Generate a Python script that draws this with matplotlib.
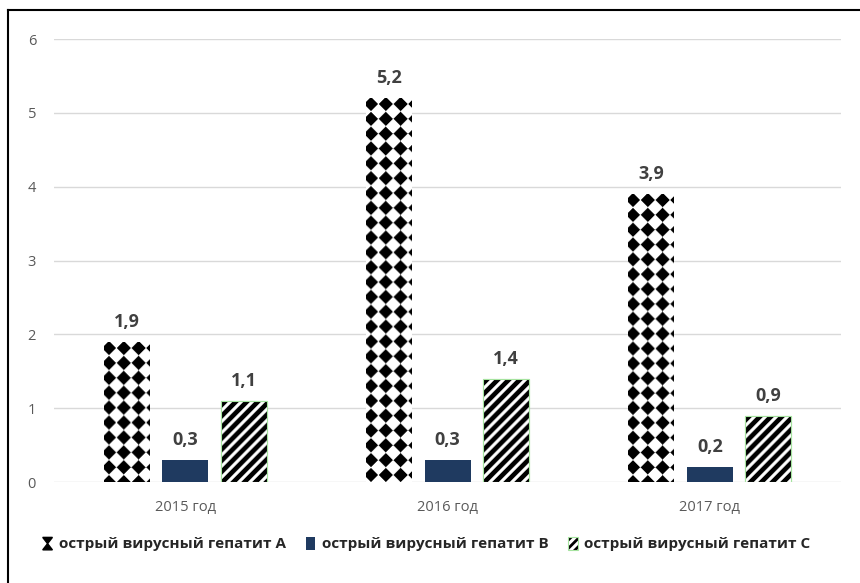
import numpy as np
import matplotlib.pyplot as plt
from matplotlib.patches import Rectangle, Polygon
from matplotlib.lines import Line2D
from matplotlib.legend_handler import HandlerBase

plt.rcParams['font.family'] = ['Open Sans', 'DejaVu Sans']

years = ["2015 год", "2016 год", "2017 год"]
hep_a = [1.9, 5.2, 3.9]
hep_b = [0.3, 0.3, 0.2]
hep_c = [1.1, 1.4, 0.9]
series_names = ["острый вирусный гепатит A",
                "острый вирусный гепатит B",
                "острый вирусный гепатит C"]

navy = "#1F3A60"
pale_green = "#A6E3A0"
grid_grey = "#D9D9D9"
text_grey = "#595959"
label_grey = "#404040"

fig = plt.figure(figsize=(8.6, 5.83), dpi=100)
ax = fig.add_axes([0.063, 0.173, 0.915, 0.760])

x = np.arange(len(years))
w = 0.175
off = 0.223

bars_a = ax.bar(x - off, hep_a, w, color="white", edgecolor="none", zorder=2)
bars_b = ax.bar(x, hep_b, w, color=navy, edgecolor="none", zorder=2)
bars_c = ax.bar(x + off, hep_c, w, color="white", edgecolor=pale_green,
                linewidth=0.8, zorder=2)

ax.set_xlim(-0.5, 2.5)
ax.set_ylim(0, 6)


def diamonds(h, w):
    # black diamonds on a square grid, tips nearly touching
    p = 14.8
    yy, xx = np.mgrid[0:h, 0:w] + 0.5
    dx = np.abs(((xx - 5.0) + p / 2) % p - p / 2)
    dy = np.abs(((yy - 7.0) + p / 2) % p - p / 2)
    d = dx + dy
    return np.clip((d - 6.4) / 1.4, 0, 1)


def stripes(h, w):
    # thick forward slash stripes
    p = 11.0
    yy, xx = np.mgrid[0:h, 0:w] + 0.5
    u = (xx + yy) % p
    d = np.abs(u - p / 2)
    return np.clip((d - 2.8) / 1.0, 0, 1)


def fill_texture(bars, maker):
    for b in bars:
        x0, y0 = b.get_x(), b.get_y()
        x1, y1 = x0 + b.get_width(), y0 + b.get_height()
        (px0, py0), (px1, py1) = ax.transData.transform([(x0, y0), (x1, y1)])
        tw = max(int(round(px1 - px0)), 1)
        th = max(int(round(py1 - py0)), 1)
        tex = maker(th, tw)
        im = ax.imshow(tex, cmap="gray", vmin=0, vmax=1, extent=(x0, x1, y0, y1),
                       origin="upper", aspect="auto", interpolation="bilinear",
                       zorder=2.5)
        im.set_clip_path(b)


fill_texture(bars_a, diamonds)
fill_texture(bars_c, stripes)
# redraw the green outline over the stripes
for b in bars_c:
    ax.add_patch(Rectangle((b.get_x(), 0), b.get_width(), b.get_height(),
                           facecolor="none", edgecolor=pale_green,
                           linewidth=0.8, zorder=3))

ax.set_xlim(-0.5, 2.5)
ax.set_ylim(0, 6)

for bars, vals in ((bars_a, hep_a), (bars_b, hep_b), (bars_c, hep_c)):
    for b, v in zip(bars, vals):
        ax.annotate(f"{v:.1f}".replace(".", ","),
                    (b.get_x() + b.get_width() / 2, v),
                    xytext=(0, 8), textcoords="offset points",
                    ha="center", va="bottom", fontsize=13,
                    fontweight="bold", color=label_grey, zorder=4)

ax.set_yticks(range(0, 7))
ax.set_xticks(x)
ax.set_xticklabels(years)
ax.tick_params(axis="both", length=0, labelsize=10.5, labelcolor=text_grey)
ax.tick_params(axis="y", pad=13)
ax.tick_params(axis="x", pad=13)
ax.yaxis.grid(True, color=grid_grey, linewidth=1)
ax.set_axisbelow(True)
for s in ax.spines.values():
    s.set_visible(False)


class HourglassHandler(HandlerBase):
    def create_artists(self, legend, orig, xd, yd, width, height, fontsize, trans):
        cx = xd + width / 2
        top = Polygon([(cx - 3.5, yd + height + 1), (cx + 3.5, yd + height + 1),
                       (cx, yd + height / 2)], closed=True,
                      facecolor="black", edgecolor="black", transform=trans)
        bot = Polygon([(cx - 3.5, yd - 1), (cx + 3.5, yd - 1),
                       (cx, yd + height / 2)], closed=True,
                      facecolor="black", edgecolor="black", transform=trans)
        return [top, bot]


class SquareHandler(HandlerBase):
    def __init__(self, face, edge, hatch=None):
        super().__init__()
        self.face, self.edge, self.hatch = face, edge, hatch

    def create_artists(self, legend, orig, xd, yd, width, height, fontsize, trans):
        arts = []
        sq = Rectangle((xd, yd - 1), width, height + 2, facecolor=self.face,
                       edgecolor="black" if self.hatch else "none",
                       hatch=self.hatch, linewidth=0, transform=trans)
        arts.append(sq)
        if self.edge:
            arts.append(Rectangle((xd, yd - 1), width, height + 2,
                                  facecolor="none", edgecolor=self.edge,
                                  linewidth=0.8, transform=trans))
        return arts


h_a = Line2D([], [])
h_b = Line2D([], [])
h_c = Line2D([], [])
plt.rcParams['hatch.linewidth'] = 2.0
leg = fig.legend([h_a, h_b, h_c], series_names,
                 handler_map={h_a: HourglassHandler(),
                              h_b: SquareHandler(navy, None),
                              h_c: SquareHandler("white", pale_green, "////")},
                 loc="center left", bbox_to_anchor=(0.034, 0.067), ncol=3,
                 frameon=False, handlelength=0.6, handleheight=0.6,
                 handletextpad=0.45, columnspacing=1.3,
                 prop={"size": 11, "weight": "bold"})
for t in leg.get_texts():
    t.set_color("#262626")

# outer frame (top and left edges)
fig.add_artist(Line2D([8 / 860, 1.0], [1 - 10 / 583, 1 - 10 / 583],
                      color="black", linewidth=1.5, transform=fig.transFigure))
fig.add_artist(Line2D([8 / 860, 8 / 860], [0.0, 1 - 10 / 583],
                      color="black", linewidth=1.5, transform=fig.transFigure))

fig.savefig("out.png", dpi=100)
